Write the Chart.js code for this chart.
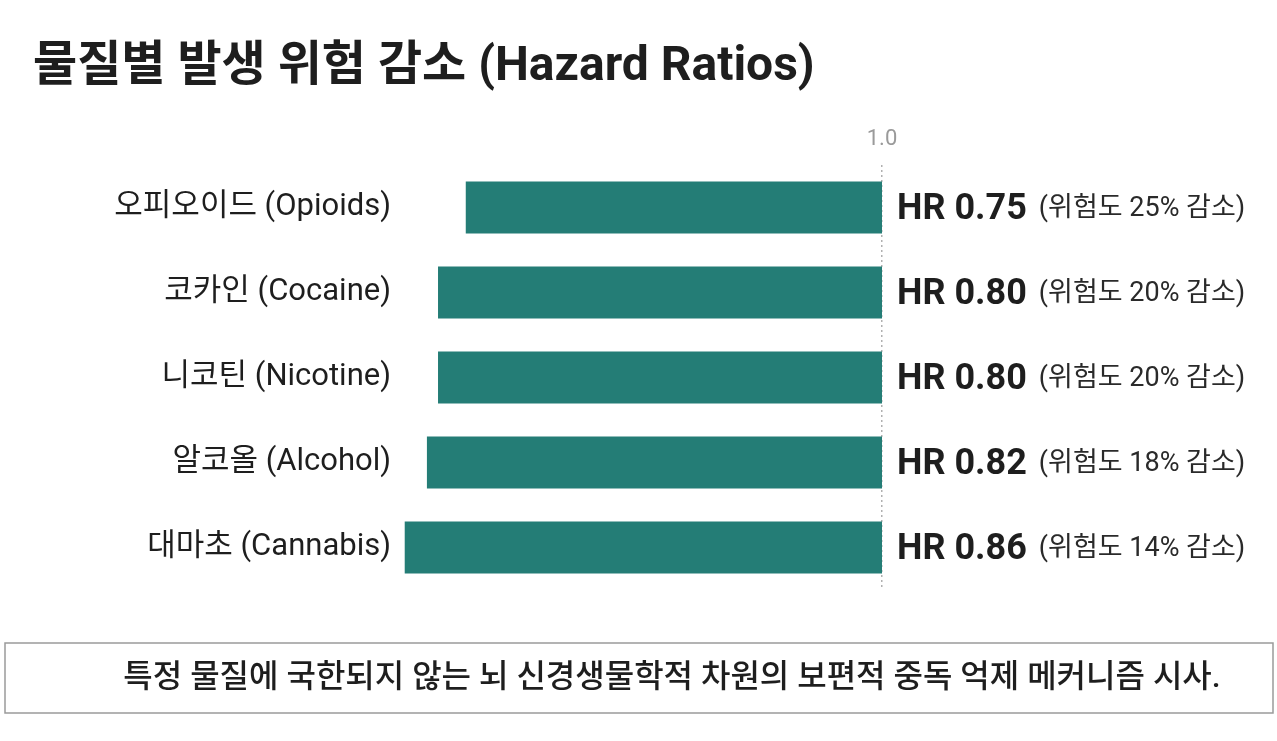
<!DOCTYPE html>
<html lang="ko">
<head>
<meta charset="utf-8">
<title>물질별 발생 위험 감소</title>
<script src="https://cdn.jsdelivr.net/npm/chart.js@4.4.1/dist/chart.umd.min.js"></script>
<style>
  html, body { margin: 0; padding: 0; background: #fff; }
  #wrap { width: 1277px; height: 741px; position: relative; }
</style>
</head>
<body>
<div id="wrap"><canvas id="hrChart"></canvas></div>
<script>
// data
const substances = ['오피오이드 (Opioids)', '코카인 (Cocaine)', '니코틴 (Nicotine)', '알코올 (Alcohol)', '대마초 (Cannabis)'];
const hazardRatios = [0.75, 0.80, 0.80, 0.82, 0.86];
const riskReduction = [25, 20, 20, 18, 14];
const referenceTick = [1.0];

const FONT = "Roboto, 'Noto Sans CJK KR', sans-serif";
const TEAL = '#247d76';

// bars hang left from the 1.0 line, length = HR
const barRanges = hazardRatios.map(hr => [1 - hr, 1]);

const overlayPlugin = {
    id: 'overlay',
    afterDraw(chart) {
        const ctx = chart.ctx;
        const meta = chart.getDatasetMeta(0);
        ctx.save();

        // title
        ctx.fillStyle = '#1e1e1e';
        ctx.font = "bold 48px " + FONT;
        ctx.textBaseline = 'middle';
        ctx.textAlign = 'left';
        ctx.fillText('물질별 발생 위험 감소 (Hazard Ratios)', 33, 68);

        // HR labels
        meta.data.forEach((bar, i) => {
            const x = bar.x + 15;
            const y = bar.y + 2;
            ctx.font = "bold 36px " + FONT;
            ctx.fillStyle = '#1e1e1e';
            const main = 'HR ' + hazardRatios[i].toFixed(2);
            ctx.fillText(main, x, y);
            const w = ctx.measureText(main).width;
            ctx.font = "27px " + FONT;
            ctx.fillStyle = '#2a2a2a';
            ctx.fillText('(위험도 ' + riskReduction[i] + '% 감소)', x + w + 12, y);
        });

        // note box
        ctx.strokeStyle = '#9a9a9a';
        ctx.lineWidth = 1.5;
        ctx.strokeRect(5, 643, 1268, 70);
        ctx.font = "500 32px " + FONT;
        ctx.fillStyle = '#1e1e1e';
        ctx.textAlign = 'center';
        ctx.fillText('특정 물질에 국한되지 않는 뇌 신경생물학적 차원의 보편적 중독 억제 메커니즘 시사.', 672, 679);

        ctx.restore();
    }
};

new Chart(document.getElementById('hrChart'), {
    type: 'bar',
    data: {
        labels: substances,
        datasets: [{
            data: barRanges,
            backgroundColor: TEAL,
            borderWidth: 0,
            borderSkipped: false,
            categoryPercentage: 1.0,
            barPercentage: 0.61
        }]
    },
    options: {
        indexAxis: 'y',
        responsive: true,
        maintainAspectRatio: false,
        animation: false,
        layout: {
            padding: { top: 118, right: 395, bottom: 151, left: 0 }
        },
        plugins: {
            legend: { display: false },
            tooltip: { enabled: false }
        },
        scales: {
            x: {
                position: 'top',
                min: 0.1315,
                max: 1.0,
                afterBuildTicks(scale) {
                    scale.ticks = referenceTick.map(v => ({ value: v }));
                },
                afterFit(scale) { scale.height = 47; },
                ticks: {
                    color: '#9a9a9a',
                    font: { family: FONT, size: 22 },
                    padding: 12,
                    callback: v => Number(v).toFixed(1)
                },
                grid: {
                    color: '#b0b0b0',
                    lineWidth: 1.5,
                    drawTicks: false,
                    drawOnChartArea: true
                },
                border: { display: false, dash: [2, 3] }
            },
            y: {
                afterFit(scale) { scale.width = 400; },
                ticks: {
                    color: '#1e1e1e',
                    font: { family: FONT, size: 31 },
                    padding: 1
                },
                grid: { display: false },
                border: { display: false }
            }
        }
    },
    plugins: [overlayPlugin]
});
</script>
</body>
</html>
